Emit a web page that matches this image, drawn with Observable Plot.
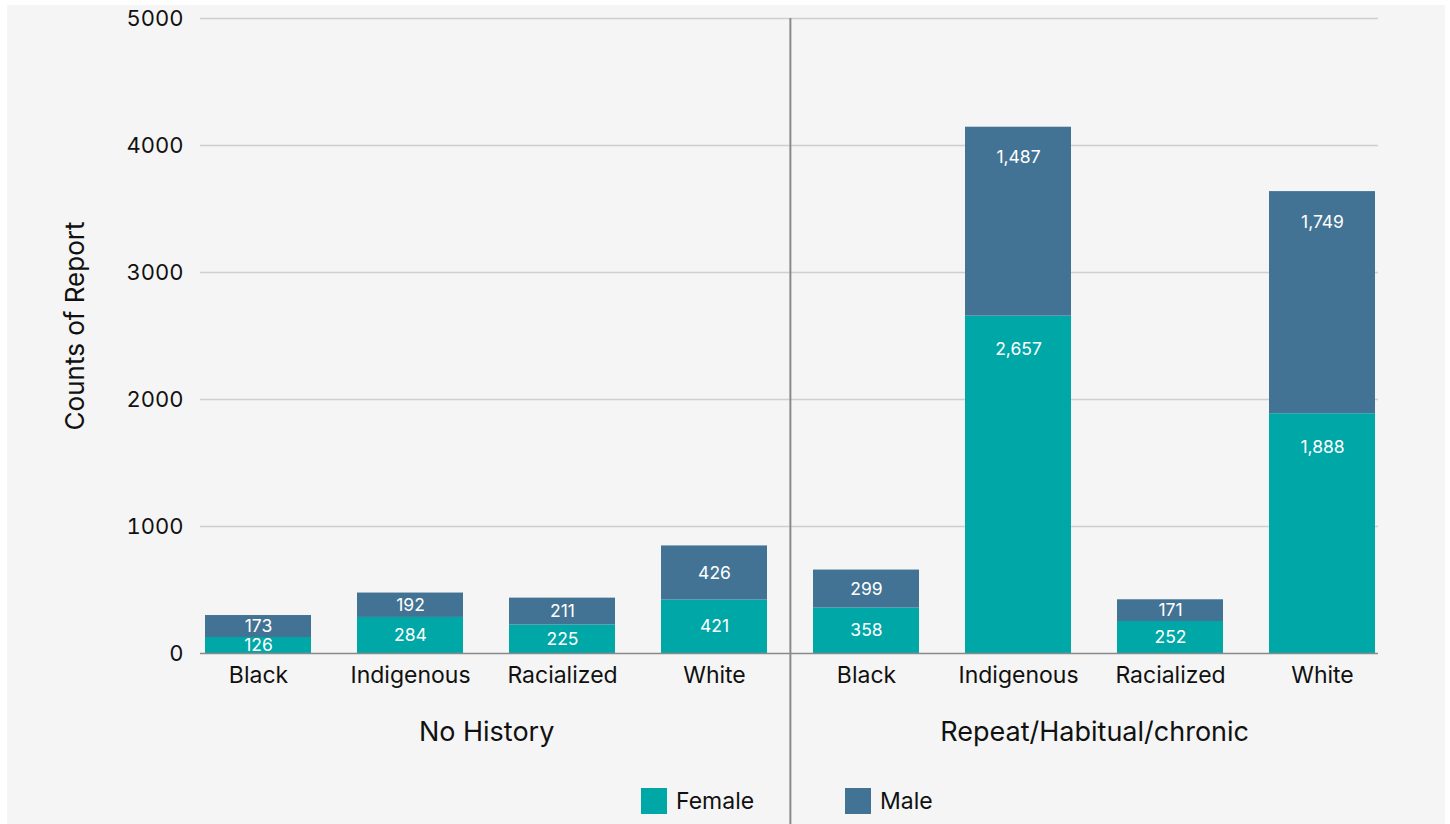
<!DOCTYPE html>
<html><head><meta charset="utf-8">
<script src="https://cdn.jsdelivr.net/npm/d3@7"></script>
<script src="https://cdn.jsdelivr.net/npm/@observablehq/plot@0.6"></script>
<style>
body{margin:0;background:#fff;font-family:Inter,"Noto Sans",sans-serif;}
#bg{position:absolute;left:7px;top:5px;width:1438px;height:819px;background:#f5f5f5;}
#chart{position:absolute;left:0;top:0;}
#legend{position:absolute;top:787px;left:0;width:1450px;height:28px;}
.item{position:absolute;top:0;display:flex;align-items:center;font-size:23px;color:#111;height:28px;}
.sw{width:26px;height:26px;margin-right:9px;}
</style></head><body>
<div id="bg"></div><div id="chart"></div><div id="legend"></div>
<script>
const groups = ["No History", "Repeat/Habitual/chronic"];
const categories = ["Black", "Indigenous", "Racialized", "White"];
const sexes = ["Female", "Male"];
const female = [126, 284, 225, 421, 358, 2657, 252, 1888];
const male = [173, 192, 211, 426, 299, 1487, 171, 1749];
const yTicks = [0, 1000, 2000, 3000, 4000, 5000];
const colors = ["#00a7a7", "#427394"];

const keys = [];
groups.forEach(g => categories.forEach(c => keys.push(g + "|" + c)));
const rows = [];
keys.forEach((k, i) => {
  const f = female[i], m = male[i];
  rows.push({key: k, sex: "Female", value: f, labelY: f - Math.min(f / 2, 265)});
  rows.push({key: k, sex: "Male", value: m, labelY: f + m - Math.min(m / 2, 240)});
});

const W = 1450, H = 824, mL = 181, mR = 51, mT = 18, mB = 171;
const step = (W - mL - mR) / keys.length;
const font = "Inter, 'Noto Sans', sans-serif";
const fmt = d3.format(",");

const chart = Plot.plot({
  width: W, height: H,
  marginLeft: mL, marginRight: mR, marginTop: mT, marginBottom: mB,
  style: {background: "transparent", fontFamily: font, color: "#111"},
  x: {domain: keys, paddingInner: 0.3, paddingOuter: 0.15},
  y: {domain: [0, 5000]},
  color: {domain: sexes, range: colors},
  marks: [
    Plot.ruleY(yTicks.filter(d => d > 0), {stroke: "#cfcfcf", strokeWidth: 1.5, insetLeft: 19, insetRight: 21}),
    Plot.barY(rows, {x: "key", y: "value", fill: "sex"}),
    Plot.ruleY([0], {stroke: "#8a8a8a", strokeWidth: 1.5, insetLeft: 19, insetRight: 21}),
    Plot.ruleX([keys[4]], {dx: -step / 2, stroke: "#8a8a8a", strokeWidth: 2, insetBottom: -mB}),
    Plot.text(rows, {x: "key", y: "labelY", text: d => fmt(d.value), fill: "white", fontSize: 17.5}),
    Plot.axisX({tickSize: 0, tickPadding: 13, fontSize: 23, label: null, tickFormat: k => k.split("|")[1]}),
    Plot.axisY({ticks: yTicks, tickSize: 0, tickPadding: 0, dx: 2, fontSize: 22, label: null, tickFormat: d => String(d)}),
    Plot.text(groups, {x: (d, i) => keys[i * 4 + 1], dx: step / 2, frameAnchor: "bottom", dy: 87, fontSize: 27, text: d => d}),
    Plot.text(["Counts of Report"], {frameAnchor: "left", textAnchor: "middle", rotate: -90, dx: -106, dy: -10, fontSize: 26, text: d => d})
  ]
});
document.getElementById("chart").appendChild(chart);

const legend = document.getElementById("legend");
const lefts = [641, 845];
sexes.forEach((s, i) => {
  const it = document.createElement("div");
  it.className = "item";
  it.style.left = lefts[i] + "px";
  it.innerHTML = `<span class="sw" style="background:${colors[i]}"></span><span>${s}</span>`;
  legend.appendChild(it);
});
</script>
</body></html>
